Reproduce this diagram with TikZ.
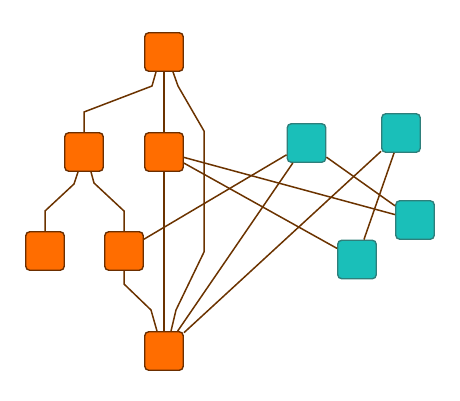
\documentclass[tikz,border=0pt]{standalone}
\usepackage{tikz}
\definecolor{orangefill}{HTML}{FF6D00}
\definecolor{orangeline}{HTML}{6B2E00}
\definecolor{tealfill}{HTML}{1ABFB9}
\definecolor{tealline}{HTML}{2E7F7B}
\definecolor{edgecol}{HTML}{6B3300}
\begin{document}
\begin{tikzpicture}[x=1pt, y=-1pt,
    onode/.style={rectangle, rounded corners=4pt, draw=orangeline, fill=orangefill, line width=1.4pt, minimum size=38.5pt, inner sep=0pt},
    tnode/.style={rectangle, rounded corners=4pt, draw=tealline, fill=tealfill, line width=1.4pt, minimum size=38.5pt, inner sep=0pt},
    link/.style={draw=edgecol, line width=1.5pt}]
      \useasboundingbox (0,0) rectangle (460,400);
      \path
        (164,52) node[onode] (0){}
        (84,152) node[onode] (1){}
        (164,152) node[onode] (2){}
        (45,251) node[onode] (3){}
        (124,251) node[onode] (4){}
        (164,351) node[onode] (5){}
        (306.5,143) node[tnode] (6){}
        (401,133) node[tnode] (7){}
        (415,220) node[tnode] (8){}
        (357,259.5) node[tnode] (9){};
      \begin{scope}[link]
        \draw ([xshift=-8pt]0.south) -- (152,86) -- (84,112) -- (1.north);
        \draw (0) to (2);
        \draw ([xshift=9pt]0.south) -- (178,86) -- (204,131) -- (204,252) -- (176,310) -- ([xshift=7pt]5.north);
        \draw ([xshift=-6pt]1.south) -- (74,184) -- (45,211) -- (3.north);
        \draw ([xshift=7pt]1.south) -- (94,183) -- (124,211) -- (4.north);
        \draw (4.south) -- (124,284) -- (151,310) -- ([xshift=-7pt]5.north);
        \draw (2) to (5);
        \draw (2) to (8);
        \draw (2) to (9);
        \draw (4) to (6);
        \draw (6) to (8);
        \draw (6) to (5);
        \draw (7) to (9);
        \draw (7) to (5);
      \end{scope}
    \end{tikzpicture}
\end{document}
